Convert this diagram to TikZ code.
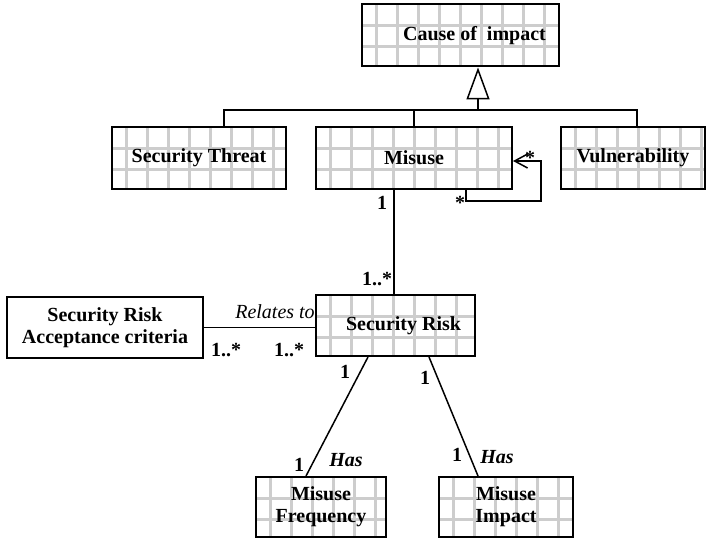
\documentclass[tikz,border=0pt]{standalone}
\usepackage{fontspec}
\setmainfont{Liberation Serif}
\usetikzlibrary{arrows.meta}
\definecolor{gridgray}{RGB}{205,205,205}

\tikzset{
  gridline/.style={gridgray, line width=1.5pt},
  classbox/.style={draw, line width=1pt, inner sep=0pt, align=center, minimum height=31pt,
    font={\fontsize{10pt}{11pt}\selectfont\bfseries},
    path picture={
      \foreach \k in {0,...,9}
        \draw[gridline] ([xshift=7pt+\k*10.5pt]path picture bounding box.north west) -- ([xshift=7pt+\k*10.5pt]path picture bounding box.south west);
      \foreach \k in {0,1}
        \draw[gridline] ([yshift=-10.5pt-\k*10.5pt]path picture bounding box.north west) -- ([yshift=-10.5pt-\k*10.5pt]path picture bounding box.north east);
    }},
  plainbox/.style={draw, line width=1pt, inner sep=0pt, align=center, minimum height=31pt,
    font={\fontsize{10pt}{11pt}\selectfont\bfseries}},
  mult/.style={font=\bfseries, inner sep=0pt},
  role/.style={inner sep=0pt},
  link/.style={line width=0.75pt}
}

\begin{document}
\begin{tikzpicture}[x=0.5pt, y=-0.5pt]
  \useasboundingbox (0,0) rectangle (711,540);

  % Top class
  \node[classbox, minimum width=98.5pt] (cause) at (460.5,35.5) {\hspace*{14pt}Cause of \ impact};

  % Subclasses
  \node[classbox, minimum width=87pt] (threat) at (199,158) {Security Threat};
  \node[classbox, minimum width=98pt] (misuse) at (414,158) {Misuse};
  \node[classbox, minimum width=72pt] (vuln) at (633,158) {Vulnerability};

  % Risk and related classes
  \node[classbox, minimum width=79.5pt, minimum height=30.5pt] (risk) at (395.5,325.5) {\hspace*{8pt}Security Risk};
  \node[plainbox, minimum width=98pt, minimum height=30.5pt] (accept) at (105,327.5) {Security Risk\\Acceptance criteria};
  \node[classbox, minimum width=65pt, minimum height=30pt] (freq) at (321,507) {Misuse\\Frequency};
  \node[classbox, minimum width=67pt, minimum height=30pt] (impact) at (506,507) {Misuse\\Impact};

  % Generalization
  \coordinate (join) at (478,110);
  \coordinate (loop) at (541,201);
  \draw[link, -{Triangle[open, length=16pt, width=11.5pt]}] (join) -- (join |- cause.south);
  \draw[link] ([xshift=12.5pt]threat.north) |- (join);
  \draw[link] (misuse.north) -- (misuse.north |- join);
  \draw[link] ([xshift=2pt]vuln.north) |- (join);

  % Associations
  \draw[link, -{Straight Barb[length=6.5pt, width=7pt]}] ([xshift=26pt]misuse.south) |- (loop) |- ([yshift=-1.5pt]misuse.east);
  \draw[link] ([xshift=-10pt]misuse.south) -- ([xshift=-10pt]misuse.south |- risk.north);
  \draw[link] (accept.east) -- (accept.east -| risk.west);
  \draw[link] ([xshift=-13.75pt]risk.south) -- ([xshift=-7.5pt]freq.north);
  \draw[link] ([xshift=16.75pt]risk.south) -- ([xshift=-14pt]impact.north);

  % Multiplicities and roles
  \node[mult] (m1) at (460,203) {*};
  \node[mult] (m2) at (530,158) {*};
  \node[mult] (m3) at (382,203) {1};
  \node[mult] (m4) at (377,279) {1..*};
  \node[role] (rel) at (275,312) {\itshape Relates to};
  \node[mult] (m5) at (226,350) {1..*};
  \node[mult] (m6) at (289,350) {1..*};
  \node[mult] (m7) at (345,372) {1};
  \node[mult] (m8) at (299,465) {1};
  \node[role] (has1) at (346,460) {\bfseries\itshape Has};
  \node[mult] (m9) at (425,378) {1};
  \node[mult] (m10) at (457,455) {1};
  \node[role] (has2) at (497,457) {\bfseries\itshape Has};
\end{tikzpicture}
\end{document}
